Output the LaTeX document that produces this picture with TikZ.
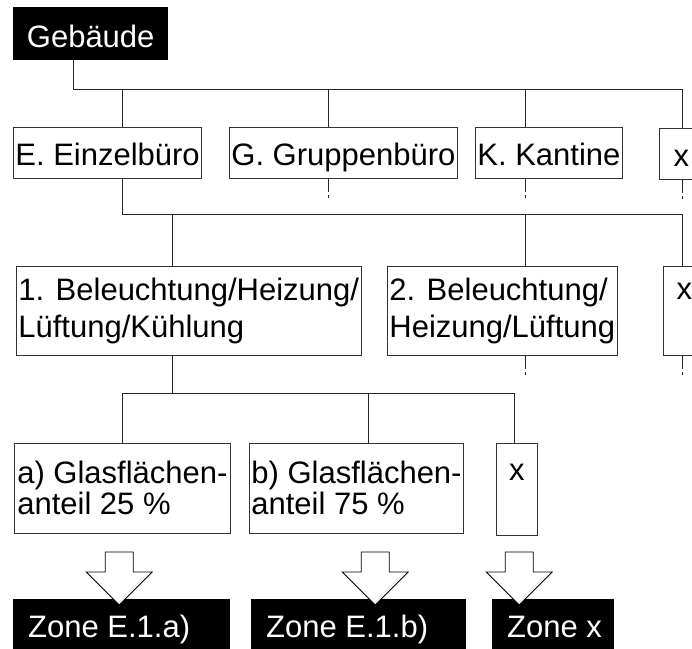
\documentclass[tikz,border=0pt]{standalone}
\usepackage{fontspec}
\setmainfont{Liberation Sans}
\usetikzlibrary{calc}

% hollow block arrow, #1 = tip
\newcommand{\zonearrow}[1]{%
  \draw[line width=.8pt, fill=white] (#1) ++(-14,-53) -- ++(28,0) -- ++(0,20)
    -- ++(19,0) -- ++(-33,33) -- ++(-33,-33) -- ++(19,0) -- cycle;}

\begin{document}
\begin{tikzpicture}[x=1pt,y=-1pt,
    unit/.style={draw=black!80, line width=.8pt, fill=white, anchor=north west,
      inner xsep=2pt, inner ysep=0pt, font=\fontsize{31}{37}\selectfont},
    lvone/.style={unit, minimum height=51, text height=26pt, text depth=0pt},
    lvtwo/.style={unit, minimum height=89, align=left},
    lvthree/.style={unit, minimum height=90, align=left,
      font=\fontsize{31}{31}\selectfont},
    dark/.style={fill=black, text=white, anchor=north west, inner ysep=0pt,
      font=\fontsize{31}{37}\selectfont, text depth=0pt},
    link/.style={draw=black!85, line width=1pt},
    stub/.style={draw=black!85, line width=1pt,
      dash pattern=on 13pt off 3pt on 3pt off 20pt}]
  \useasboundingbox (0,0) rectangle (692,648);

  \node[dark, minimum width=155, minimum height=53, text height=27pt] (geb) at (13,7) {Gebäude};

  \node[lvone, minimum width=187] (E) at (13,127) {E. Einzelbüro};
  \node[lvone, minimum width=228] (G) at (229,127) {G. Gruppenbüro};
  \node[lvone, minimum width=146] (K) at (475,127) {K. Kantine};
  \node[lvone, minimum width=44] (x1) at (659,128) {x};

  \node[lvtwo, minimum width=342] (b1) at (16,266) {1. Beleuchtung/Heizung/\\Lüftung/Kühlung};
  \node[lvtwo, minimum width=229] (b2) at (387,266) {2. Beleuchtung/\\Heizung/Lüftung};
  \node[lvtwo, minimum width=42, align=center] (x2) at (663,266) {\strut x\\\strut};

  \node[lvthree, minimum width=216] (ga) at (14,443) {a) Glasflächen-\\anteil 25 \%};
  \node[lvthree, minimum width=213] (gb) at (249,443) {b) Glasflächen-\\anteil 75 \%};
  \node[lvthree, minimum width=41, minimum height=92, align=center] (x3) at (496,443) {\strut x\\\strut};

  \node[dark, inner xsep=15pt, minimum height=54, text height=22pt] (za) at (13,599) {\makebox[187pt][l]{Zone E.1.a)}};
  \node[dark, inner xsep=15pt, minimum height=54, text height=22pt] (zb) at (251,599) {\makebox[185pt][l]{Zone E.1.b)}};
  \node[dark, inner xsep=15pt, minimum height=54, text height=22pt] (zx) at (492,599) {\makebox[92pt][l]{Zone x}};

  \foreach \kid/\dx in {E/109,G/99,K/50,x1/23}
    \draw[link] ([xshift=60pt]geb.south west) -- ++(0,29) -| ([xshift=\dx pt]\kid.north west);
  \foreach \kid/\dx in {b1/156,b2/138,x2/19}
    \draw[link] ([xshift=109pt]E.south west) -- ++(0,36) -| ([xshift=\dx pt]\kid.north west);
  \foreach \kid/\dx in {ga/108,gb/119,x3/18}
    \draw[link] ([xshift=156pt]b1.south west) -- ++(0,38) -| ([xshift=\dx pt]\kid.north west);

  % not continued
  \foreach \n/\dx in {G/99,K/50,x1/23,b2/138,x2/19}
    \draw[stub] ([xshift=\dx pt]\n.south west) -- ++(0,19);

  \zonearrow{[xshift=-2.5pt,yshift=-6pt]za.north}
  \zonearrow{[xshift=16.5pt,yshift=-6pt]zb.north}
  \zonearrow{[xshift=-34pt,yshift=-6pt]zx.north}
\end{tikzpicture}
\end{document}
